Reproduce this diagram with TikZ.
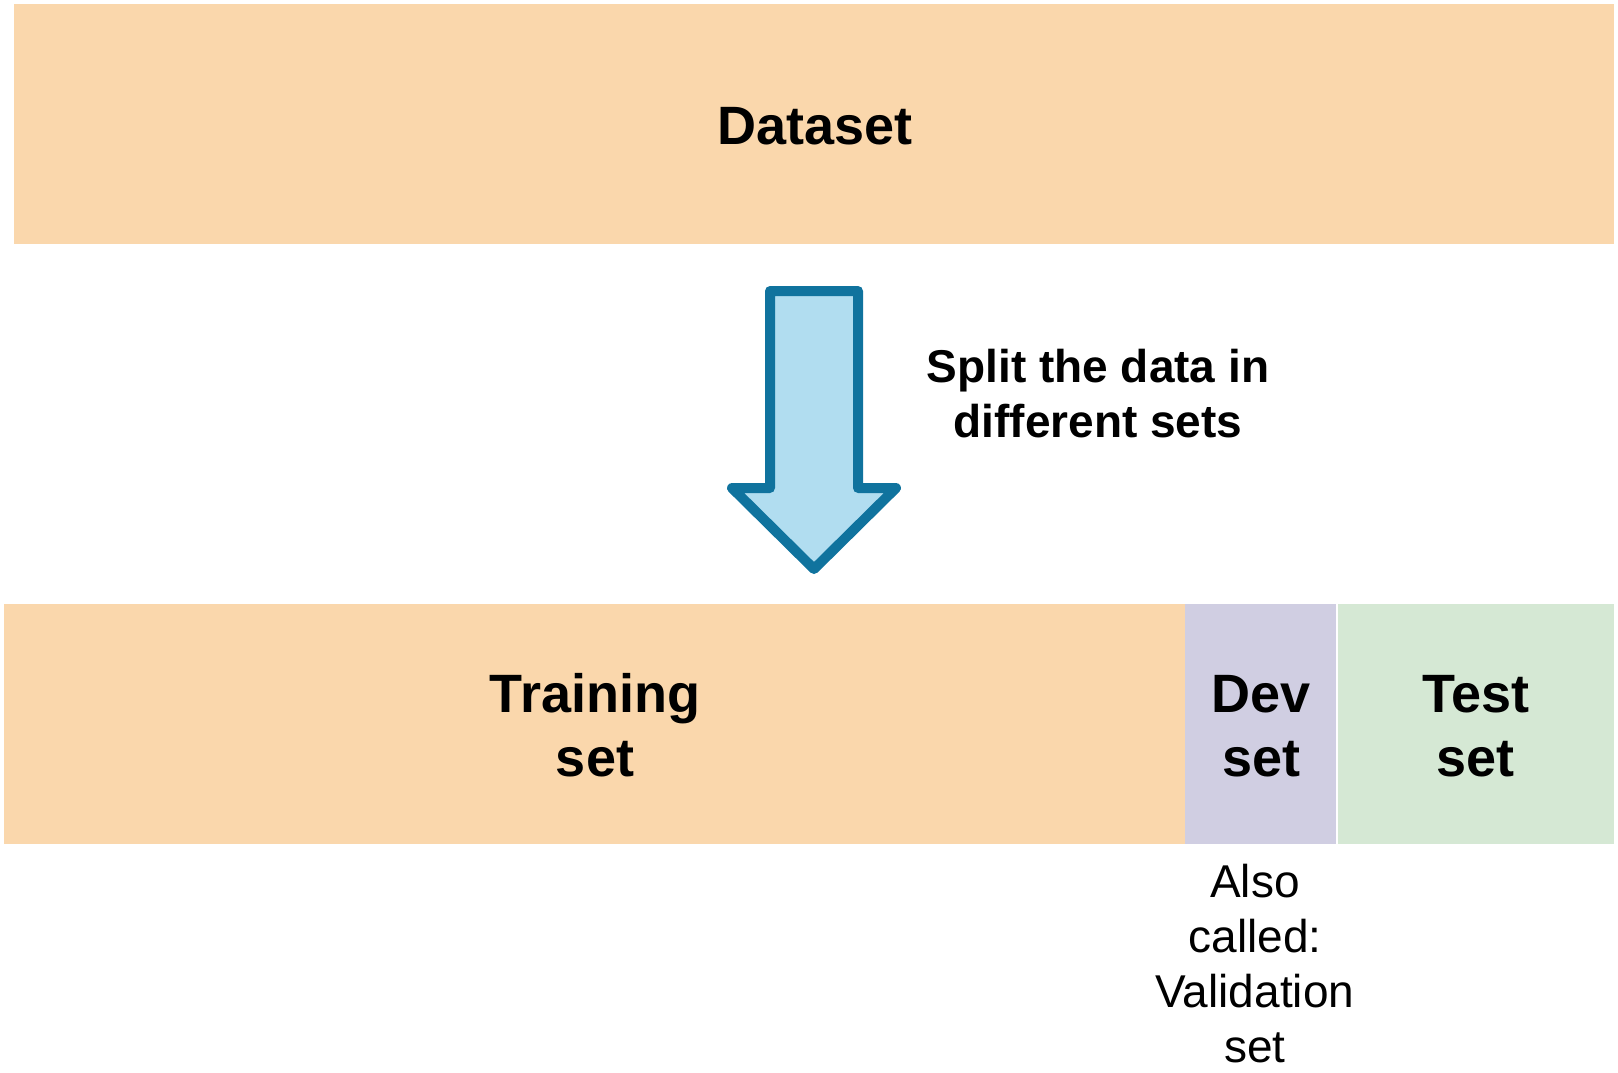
\documentclass[tikz,border=0pt]{standalone}
\usepackage{fontspec}
\setmainfont{Liberation Sans}
\definecolor{peach}{HTML}{FAD7AC}
\definecolor{lilac}{HTML}{D0CEE2}
\definecolor{mint}{HTML}{D5E8D4}
\definecolor{skyfill}{HTML}{B1DDF0}
\definecolor{skyline}{HTML}{10739E}
\tikzset{
  block/.style={inner sep=0pt, outer sep=0pt, draw=none},
  bigbold/.style={font=\fontsize{54}{62}\selectfont\bfseries, align=center, anchor=base, inner sep=0pt},
  midbold/.style={font=\fontsize{46}{54}\selectfont\bfseries, align=center, anchor=base, inner sep=0pt},
  note/.style={font=\fontsize{46}{55}\selectfont, align=center, anchor=base, inner sep=0pt},
}
\begin{document}
\begin{tikzpicture}[x=1pt, y=-1pt]
\useasboundingbox (0,0) rectangle (1618,1073);
% boxes
\fill[peach] (14,4) rectangle (1614,244);
\node[block, minimum width=1600pt, minimum height=240pt] (dataset) at (814,124) {};
\fill[peach] (4,604) rectangle (1185,844);
\fill[lilac] (1185,604) rectangle (1337,844);
\fill[mint] (1337,604) rectangle (1614,844);
\draw[white, line width=1.5pt] (1337,604) -- (1337,844);
\node[block, minimum width=1181pt, minimum height=240pt] (train) at (594.5,724) {};
\node[block, minimum width=152pt, minimum height=240pt] (dev) at (1261,724) {};
\node[block, minimum width=277pt, minimum height=240pt] (test) at (1475.5,724) {};
% texts
\node[bigbold] (tdata) at (815,144) {Dataset};
\node[bigbold] (ttrain1) at (595,712) {Training};
\node[bigbold] (ttrain2) at (595,776) {set};
\node[bigbold] (tdev1) at (1261.5,712) {Dev};
\node[bigbold] (tdev2) at (1261.5,776) {set};
\node[bigbold] (ttest1) at (1475.5,712) {Test};
\node[bigbold] (ttest2) at (1475.5,776) {set};
\node[midbold] (split1) at (1098,382) {Split the data in};
\node[midbold] (split2) at (1098,437) {different sets};
\node[note] (also1) at (1255,897) {Also};
\node[note] (also2) at (1255,952) {called:};
\node[note] (also3) at (1255,1007) {Validation};
\node[note] (also4) at (1255,1062) {set};
% arrow
\draw[skyline, fill=skyfill, line width=10pt, line join=round]
  (770,291) -- (858,291) -- (858,488) -- (896,488) -- (814,569) -- (732,488) -- (770,488) -- cycle;
\end{tikzpicture}
\end{document}
